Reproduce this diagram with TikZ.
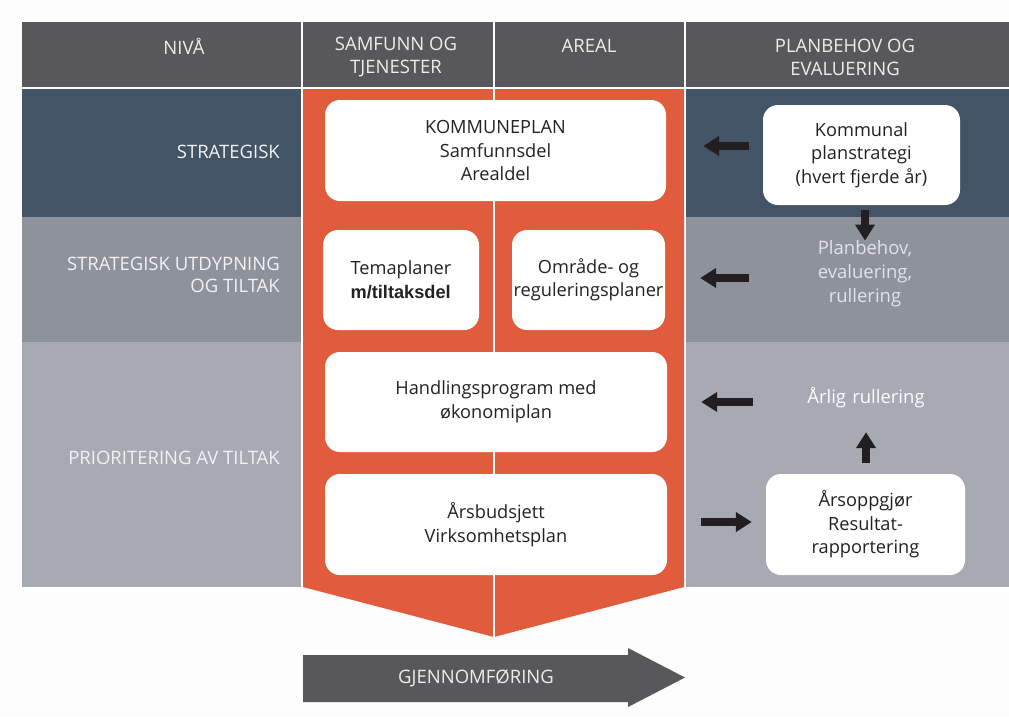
\documentclass[tikz,border=0pt]{standalone}
\usepackage{fontspec}
\setmainfont{Open Sans}
\newfontfamily\arialfont{Liberation Sans}
\usepackage{tikz}
\usetikzlibrary{arrows.meta}
\definecolor{hdrgray}{HTML}{58585A}
\definecolor{stratblue}{HTML}{425465}
\definecolor{utdgray}{HTML}{8E929B}
\definecolor{priogray}{HTML}{A7A9B3}
\definecolor{orng}{HTML}{E05C3D}
\definecolor{arrowblack}{HTML}{231F20}
\definecolor{boxtext}{HTML}{222222}
\definecolor{lighttext}{HTML}{E2E3E8}
\definecolor{paper}{HTML}{FDFDFD}
\tikzstyle{blockarrow} = [line width=8.5pt, draw=arrowblack, -{Triangle[length=16pt,width=19pt]}]

\begin{document}
\begin{tikzpicture}[x=1pt, y=-1pt,
whitenode/.style={rectangle, rounded corners=15pt, fill=white, text=boxtext, align=center, inner sep=0pt, font=\fontsize{18.2pt}{23.5pt}\selectfont},
headnode/.style={text=white!93!black, align=center, inner sep=0pt, font=\fontsize{18.5pt}{23pt}\selectfont},
levelnode/.style={text=white!95!black, align=right, anchor=east, inner sep=0pt, font=\fontsize{18.5pt}{22pt}\selectfont},
sidenode/.style={text=lighttext, align=center, inner sep=0pt, text width=120pt, font=\fontsize{18.5pt}{24pt}\selectfont}]
%Background
\useasboundingbox (0,0) rectangle (1009,716);
\fill[paper] (0,0) rectangle (1009,716);

%Header row
\fill[hdrgray] (22,22) rectangle (301,87);
\fill[hdrgray] (303,22) rectangle (493,87);
\fill[hdrgray] (495,22) rectangle (684,87);
\fill[hdrgray] (686,22) rectangle (1009,87);

%Level rows
\fill[stratblue] (22,89) rectangle (301,217);
\fill[stratblue] (686,89) rectangle (1009,217);
\fill[utdgray] (22,217) rectangle (301,342);
\fill[utdgray] (686,217) rectangle (1009,342);
\fill[priogray] (22,342) rectangle (301,587);
\fill[priogray] (686,342) rectangle (1009,587);

%Orange column
\fill[orng] (303,89) -- (684,89) -- (684,587) -- (494,637) -- (303,587) -- cycle;
\draw[white, line width=2pt] (494,89) -- (494,637);

%Implementation arrow
\fill[hdrgray] (303,655) -- (628,655) -- (628,648) -- (685,677.5) -- (628,707) -- (628,702) -- (303,702) -- cycle;

%Nodes
\node[headnode] (niva)   at (184,46)   {NIVÅ};
\node[headnode] (samf)   at (396,57.5) {SAMFUNN OG\\TJENESTER};
\node[headnode] (areal)  at (589,46)   {AREAL};
\node[headnode] (planev) at (845,57.5) {PLANBEHOV OG\\EVALUERING};

\node[levelnode] (strat) at (280,152) {STRATEGISK};
\node[levelnode] (utdyp) at (280,275) {STRATEGISK UTDYPNING\\OG TILTAK};
\node[levelnode] (prio)  at (280,458) {PRIORITERING AV TILTAK};

\node[whitenode, minimum width=341pt, minimum height=101pt] (kplan) at (495.5,150.5) {KOMMUNEPLAN\\Samfunnsdel\\Arealdel};
\node[whitenode, minimum width=156pt, minimum height=100pt, align=left] (tema) at (401,280) {Temaplaner\\{\arialfont\bfseries m/tiltaksdel}};
\node[whitenode, minimum width=153pt, minimum height=100pt] (omr) at (588.5,280) {Område- og\\reguleringsplaner};
\node[whitenode, minimum width=342pt, minimum height=100pt] (handl) at (496,402) {Handlingsprogram med\\økonomiplan};
\node[whitenode, minimum width=342pt, minimum height=101pt] (budsj) at (496,524.5) {Årsbudsjett\\Virksomhetsplan};

\node[whitenode, minimum width=197pt, minimum height=100pt] (kstrat) at (861.5,155) {Kommunal\\planstrategi\\(hvert fjerde år)};
\node[sidenode] (pbehov) at (865,274) {Planbehov,\\evaluering,\\rullering};
\node[sidenode, text=white!96!priogray, minimum height=30pt] (arlig) at (866,398) {Årlig rullering};
\node[whitenode, minimum width=199pt, minimum height=101pt] (aopp) at (865.5,524.5) {Årsoppgjør\\Resultat-\\rapportering};

\node[headnode] (gjen) at (476,678) {GJENNOMFØRING};

%Arrows
\draw[blockarrow, shorten <=14pt, shorten >=37pt] ([yshift=9pt]kstrat.west) -- ([yshift=4.5pt]kplan.east);
\draw[blockarrow, shorten <=5pt] (kstrat.south -| pbehov.north) -- (pbehov.north);
\draw[blockarrow, shorten <=56pt, shorten >=35pt] ([yshift=-4pt]pbehov.west) -- ([yshift=2pt]omr.east);
\draw[blockarrow, shorten <=53pt, shorten >=34pt] ([yshift=-4pt]arlig.west) -- (handl.east);
\draw[blockarrow, shorten <=11pt, shorten >=19pt] (aopp.north -| arlig.south) -- (arlig.south);
\draw[blockarrow, shorten <=34pt, shorten >=14pt] ([yshift=2.5pt]budsj.east) -- ([yshift=2.5pt]aopp.west);
\end{tikzpicture}
\end{document}
